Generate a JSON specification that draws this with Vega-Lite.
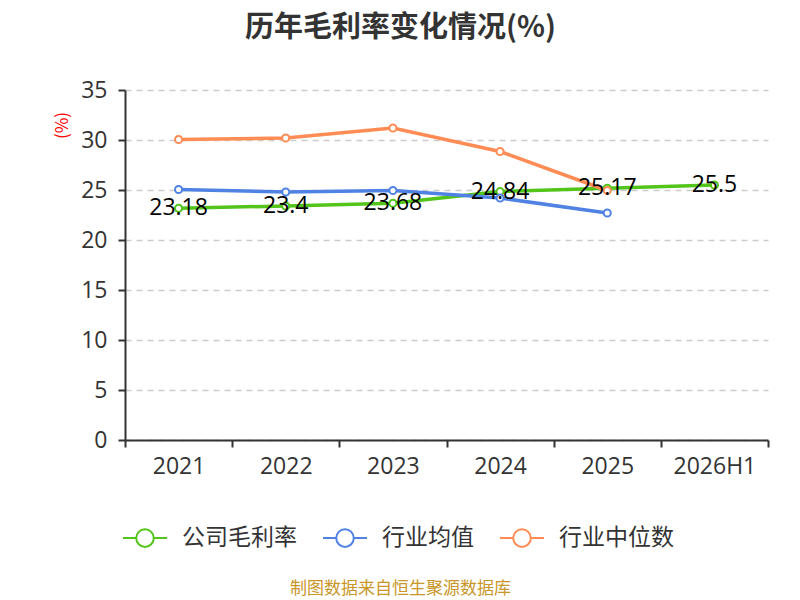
{
  "$schema": "https://vega.github.io/schema/vega-lite/v6.json",
  "autosize": {"type": "none"},
  "width": 643,
  "height": 350,
  "padding": {"left": 125, "top": 90, "right": 32, "bottom": 160},
  "background": "white",
  "title": {
    "text": "历年毛利率变化情况(%)",
    "font": "Noto Sans CJK SC",
    "fontSize": 29,
    "fontWeight": "bold",
    "color": "#333333",
    "anchor": "middle",
    "dx": -46,
    "offset": 36
  },
  "config": {
    "view": {"stroke": null},
    "font": "Noto Sans CJK SC"
  },
  "data": {
    "values": [
      {"period": "2021", "series": "公司毛利率", "value": 23.18},
      {"period": "2022", "series": "公司毛利率", "value": 23.4},
      {"period": "2023", "series": "公司毛利率", "value": 23.68},
      {"period": "2024", "series": "公司毛利率", "value": 24.84},
      {"period": "2025", "series": "公司毛利率", "value": 25.17},
      {"period": "2026H1", "series": "公司毛利率", "value": 25.5},
      {"period": "2021", "series": "行业均值", "value": 25.05},
      {"period": "2022", "series": "行业均值", "value": 24.8},
      {"period": "2023", "series": "行业均值", "value": 24.95},
      {"period": "2024", "series": "行业均值", "value": 24.2},
      {"period": "2025", "series": "行业均值", "value": 22.7},
      {"period": "2021", "series": "行业中位数", "value": 30.05},
      {"period": "2022", "series": "行业中位数", "value": 30.2},
      {"period": "2023", "series": "行业中位数", "value": 31.2},
      {"period": "2024", "series": "行业中位数", "value": 28.85},
      {"period": "2025", "series": "行业中位数", "value": 24.95}
    ]
  },
  "encoding": {
    "x": {
      "field": "period",
      "type": "ordinal",
      "bandPosition": 0.5,
      "sort": ["2021", "2022", "2023", "2024", "2025", "2026H1"],
      "scale": {"type": "band", "paddingInner": 0, "paddingOuter": 0},
      "axis": {
        "title": "制图数据来自恒生聚源数据库",
        "titleFont": "Noto Sans CJK SC",
        "titleFontSize": 17,
        "titleFontWeight": "normal",
        "titleColor": "#c9962a",
        "titleX": 275,
        "titleY": 148,
        "titleBaseline": "middle",
        "labelAngle": 0,
        "labelFont": "Open Sans",
        "labelFontSize": 23,
        "labelColor": "#333333",
        "labelPadding": 8,
        "tickBand": "extent",
        "tickSize": 7,
        "tickColor": "#333333",
        "domainColor": "#333333",
        "domainWidth": 2,
        "tickWidth": 2,
        "grid": false
      }
    },
    "y": {
      "field": "value",
      "type": "quantitative",
      "scale": {"domain": [0, 35], "nice": false},
      "axis": {
        "title": "(%)",
        "titleColor": "#ff0000",
        "titleFontSize": 17,
        "titleFontWeight": "normal",
        "titleX": -63,
        "titleY": 35,
        "titleAngle": -90,
        "titleAlign": "center",
        "titleBaseline": "middle",
        "values": [0, 5, 10, 15, 20, 25, 30, 35],
        "labelFont": "Open Sans",
        "labelFontSize": 23,
        "labelColor": "#333333",
        "labelPadding": 11,
        "tickSize": 7,
        "tickColor": "#333333",
        "tickWidth": 2,
        "domainColor": "#333333",
        "domainWidth": 2,
        "gridColor": "#cccccc",
        "gridDash": [6, 5],
        "gridWidth": 1.5
      }
    },
    "color": {
      "field": "series",
      "type": "nominal",
      "scale": {
        "domain": ["公司毛利率", "行业均值", "行业中位数"],
        "range": ["#52c41a", "#4f82e3", "#ff8c55"]
      },
      "legend": {
        "title": null,
        "orient": "none",
        "direction": "horizontal",
        "legendX": -3,
        "legendY": 425,
        "symbolType": "M-1,0H-0.4M0.4,0H1M-0.4,0A0.4,0.4 0 1,0 0.4,0A0.4,0.4 0 1,0 -0.4,0Z",
        "symbolSize": 1936,
        "symbolStrokeWidth": 2,
        "symbolFillColor": "white",
        "labelFontSize": 23,
        "labelColor": "#333333",
        "labelOffset": 14,
        "columnPadding": 22
      }
    }
  },
  "layer": [
    {
      "mark": {"type": "line", "strokeWidth": 3.5}
    },
    {
      "mark": {"type": "point", "shape": "circle", "filled": false, "fill": "white", "fillOpacity": 1, "opacity": 1, "size": 50, "strokeWidth": 2}
    },
    {
      "transform": [{"filter": "datum.series === '公司毛利率'"}],
      "mark": {"type": "text", "font": "Open Sans", "fontSize": 23, "color": "#000000", "baseline": "middle", "align": "center"},
      "encoding": {
        "text": {"field": "value", "type": "quantitative"},
        "color": {"value": "#000000"}
      }
    }
  ]
}
